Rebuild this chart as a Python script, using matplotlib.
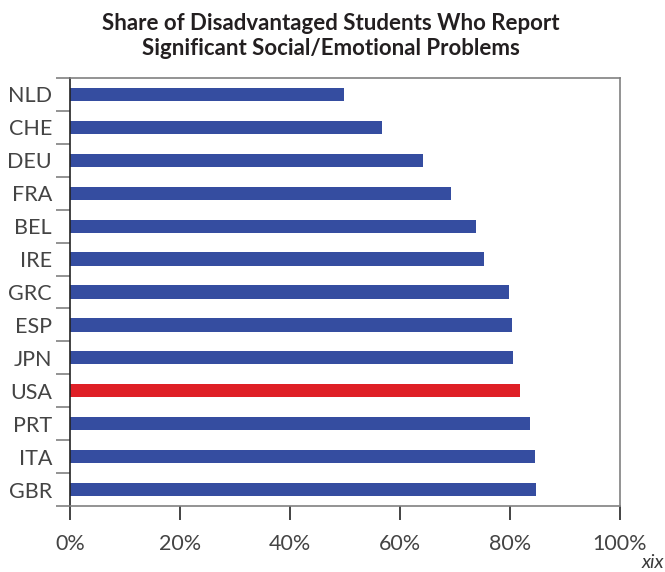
import matplotlib
matplotlib.use("Agg")
import matplotlib.pyplot as plt
from matplotlib.ticker import FuncFormatter

countries = ["NLD", "CHE", "DEU", "FRA", "BEL", "IRE", "GRC", "ESP", "JPN", "USA", "PRT", "ITA", "GBR"]
shares = [49.8, 56.8, 64.1, 69.3, 73.9, 75.3, 79.8, 80.4, 80.5, 81.8, 83.6, 84.5, 84.8]
highlight = "USA"
x_ticks = [0, 20, 40, 60, 80, 100]

blue = "#354DA0"
red = "#DF1F26"
colors = [red if c == highlight else blue for c in countries]

fig = plt.figure(figsize=(6.65, 5.72), dpi=100)
ax = fig.add_axes([70/665, 1-506/572, 550/665, 428/572])

ypos = list(range(len(countries)))
ax.barh(ypos, shares, height=0.4, color=colors)
ax.set_xlim(0, 100)
ax.set_ylim(len(countries) - 0.5, -0.5)

ax.set_xticks(x_ticks)
ax.xaxis.set_major_formatter(FuncFormatter(lambda v, p: f"{int(v)}%"))
ax.set_yticks(ypos)
ax.set_yticklabels(countries)
ax.set_yticks([i - 0.5 for i in range(len(countries) + 1)], minor=True)

for t in ax.get_yticklabels() + ax.get_xticklabels():
    t.set_fontfamily(["Lato", "DejaVu Sans"])
    t.set_fontweight("normal")
    t.set_fontsize(15.5)
    t.set_color("#444444")

ax.tick_params(axis="y", which="major", length=0, pad=13)
ax.tick_params(axis="y", which="minor", length=10, width=1.2, color="#808080")
ax.tick_params(axis="x", which="major", length=10, width=1.2, color="#222222", pad=10)

for side in ["top", "bottom", "right"]:
    ax.spines[side].set_color("#808080")
    ax.spines[side].set_linewidth(1.2)
ax.spines["left"].set_color("#222222")
ax.spines["left"].set_linewidth(1.2)

fig.text(331/665, 1-36/572, "Share of Disadvantaged Students Who Report\nSignificant Social/Emotional Problems",
         ha="center", va="center", fontsize=16, fontweight="bold",
         family=["Lato", "DejaVu Sans"], color="#231f20", linespacing=1.25)

fig.text(664/665, 1-563/572, "xix", ha="right", va="center", fontsize=14, style="italic",
         family=["Lato", "DejaVu Sans"], color="#3a3a3a")

fig.savefig("out.png", dpi=100)
